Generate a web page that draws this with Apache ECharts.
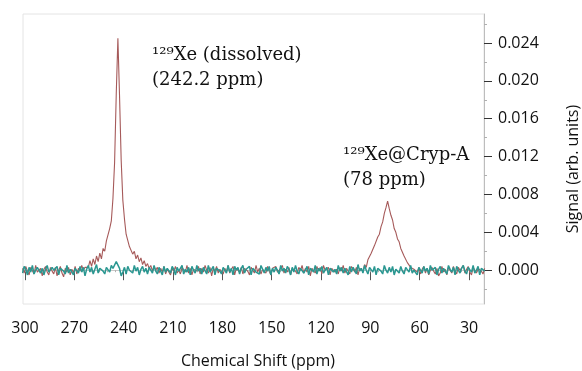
<!DOCTYPE html>
<html><head><meta charset="utf-8">
<script src="https://cdn.jsdelivr.net/npm/echarts@6/dist/echarts.min.js"></script>
<style>html,body{margin:0;padding:0;background:#fff}#c{width:582px;height:371px}</style>
</head><body><div id="c"></div>
<script>
// Chemical shift grid (ppm), 1 ppm sampling from 301.5 down to 20.5
const ppmStart = 301.5;
const ppmStep = -1;
// tick labels
const xTicks = [300, 270, 240, 210, 180, 150, 120, 90, 60, 30];
const xMinorTicks = [300,295,290,285,280,275,270,265,260,255,250,245,240,235,230,225,220,215,210,205,200,195,190,185,180,175,170,165,160,155,150,145,140,135,130,125,120,115,110,105,100,95,90,85,80,75,70,65,60,55,50,45,40,35,30,25];
const yTicks = [0, 4, 8, 12, 16, 20, 24];          // signal x 10^-3
const yMinorTicks = [-2, 2, 6, 10, 14, 18, 22, 26]; // signal x 10^-3
// Signal (x 10^-3 arb. units), sample with Cryp-A (red)
const signalCryp = [
  0.2,-0.3,0.4,-0.1,-0.5,0.3,0.1,-0.4,0.5,-0.2,
  -0.3,0.2,-0.6,0.1,0.4,-0.2,-0.5,0.3,-0.1,-0.4,
  0.3,-0.6,0.0,0.4,-0.3,-0.7,0.2,-0.2,0.3,-0.5,
  0.1,-0.3,0.4,-0.4,0.2,-0.1,0.5,0.0,0.3,0.2,
  0.3,1.0,0.4,1.2,0.6,1.5,0.9,1.8,1.2,2.3,
  2.0,3.1,2.9,4.4,5.2,7.6,11.4,18.6,24.5,18.4,
  11.6,7.4,5.4,3.8,3.6,2.5,
  2.6,1.7,2.0,1.2,1.6,0.9,1.3,0.6,1.0,0.4,
  0.7,0.2,0.5,-0.1,0.4,0.0,0.3,-0.3,0.2,-0.2,
  0.4,-0.4,0.1,0.3,-0.5,0.2,-0.1,0.4,-0.3,0.0,
  -0.4,0.3,0.1,-0.2,0.5,-0.3,0.2,-0.5,0.1,0.3,
  -0.1,0.4,-0.4,0.2,-0.2,0.5,0.0,-0.3,0.3,-0.6,
  0.2,-0.1,0.4,-0.3,0.1,0.3,-0.4,0.2,-0.2,0.5,
  -0.3,0.1,0.4,-0.5,0.2,0.0,-0.2,0.3,-0.4,0.2,
  0.4,-0.1,-0.5,0.3,0.1,-0.3,0.5,-0.2,0.2,-0.4,
  0.1,0.3,-0.3,0.4,-0.1,-0.5,0.2,0.0,0.4,-0.2,
  -0.4,0.2,0.5,-0.3,0.1,-0.2,0.3,-0.5,0.2,0.4,
  -0.1,-0.4,0.3,0.0,0.5,-0.3,0.2,-0.2,0.4,-0.6,
  0.2,0.1,-0.3,0.4,-0.1,0.3,-0.4,0.5,0.0,-0.2,
  0.3,-0.5,0.2,0.4,-0.2,0.1,-0.4,0.3,-0.1,0.5,
  -0.3,0.2,0.0,-0.4,0.4,0.1,-0.2,0.3,-0.5,0.2,
  0.3,-0.1,0.6,0.3,1.1,0.9,1.8,1.7,2.6,2.8,
  3.5,3.8,4.6,5.1,6.0,6.6,7.3,
  6.5,5.8,5.3,4.4,4.0,3.3,3.0,
  2.3,2.1,1.5,1.4,0.8,1.0,0.3,0.5,0.1,0.3,
  -0.2,0.3,-0.4,0.1,0.4,-0.3,0.2,-0.5,0.0,0.3,
  -0.1,-0.4,0.2,-0.6,-0.3,0.4,-0.2,0.1,-0.5,0.3,
  0.2,-0.3,0.4,-0.1,-0.4,0.3,0.0,-0.2,0.5,-0.3,
  0.1,0.4,-0.2,-0.5,0.3,0.0,-0.3,0.2,0.4,-0.1,-0.4,0.2
];
// Signal (x 10^-3 arb. units), control (teal)
const signalControl = [
  -0.3,0.4,0.1,-0.5,0.3,-0.2,0.5,-0.4,0.0,0.3,
  0.4,-0.3,0.2,-0.5,0.1,0.5,-0.2,-0.4,0.3,0.0,
  -0.2,0.4,-0.5,0.2,0.3,-0.1,-0.4,0.5,-0.3,0.1,
  0.3,-0.5,0.2,0.0,-0.3,0.4,-0.2,0.3,-0.6,0.1,
  0.5,-0.2,0.3,-0.4,0.1,0.6,-0.3,0.2,0.4,-0.1,
  -0.4,0.3,0.1,-0.2,0.5,0.2,0.4,0.9,1.1,0.2,
  -0.6,-0.2,0.3,-0.4,0.4,0.0,0.2,-0.3,0.5,-0.1,
  0.3,-0.5,0.1,0.4,-0.2,0.2,-0.4,0.3,0.0,-0.3,
  0.5,-0.1,-0.4,0.3,0.1,-0.5,0.4,-0.2,0.2,0.0,
  -0.3,0.4,0.1,-0.5,0.3,-0.1,0.2,0.5,-0.4,0.1,
  -0.2,0.3,-0.5,0.4,0.0,-0.3,0.5,-0.1,0.2,-0.4,
  0.3,0.1,-0.4,0.5,-0.2,0.0,0.4,-0.5,0.2,0.3,
  -0.1,-0.4,0.3,0.1,-0.3,0.5,-0.2,0.2,-0.5,0.4,
  0.0,0.3,-0.4,0.2,0.5,-0.3,0.1,-0.1,0.4,-0.5,
  0.2,0.3,-0.2,0.0,-0.4,0.5,0.1,-0.3,0.3,-0.1,
  0.4,-0.5,0.2,-0.2,0.3,0.0,-0.4,0.5,-0.1,0.2,
  -0.3,0.4,0.1,-0.5,0.3,-0.2,0.5,-0.1,-0.4,0.2,
  0.3,-0.3,0.0,0.4,-0.5,0.2,0.1,-0.2,0.5,-0.4,
  0.2,-0.1,0.4,-0.3,0.0,0.3,-0.5,0.2,0.4,-0.2,
  0.1,-0.4,0.5,-0.1,0.3,-0.3,0.2,0.0,-0.5,0.4,
  -0.2,0.3,0.1,-0.4,0.6,-0.1,0.2,-0.3,0.5,0.0,
  -0.4,0.3,0.1,-0.2,0.4,-0.5,0.2,0.3,-0.1,-0.4,
  0.5,0.0,-0.3,0.3,-0.2,0.4,-0.5,0.1,0.2,-0.3,
  0.4,-0.1,-0.4,0.3,0.1,-0.2,0.5,-0.3,0.0,0.2,
  -0.5,0.3,0.1,-0.3,0.4,-0.1,0.2,-0.4,0.5,0.0,
  -0.2,0.3,-0.5,0.1,0.4,-0.3,0.2,0.0,-0.4,0.5,
  0.1,-0.2,0.3,-0.5,0.4,0.0,-0.3,0.2,0.5,-0.1,
  -0.4,0.3,0.1,-0.2,0.5,-0.3,0.0,0.4,-0.5,0.2,0.3,-0.1
];

const toPairs = arr => arr.map((v, i) => [ppmStart + i * ppmStep, v]);

const chart = echarts.init(document.getElementById('c'), null, {renderer: 'canvas'});
const labelFont = '"Open Sans", sans-serif';
const xBase = {
  type: 'value', inverse: true, min: 20.9, max: 301.2,
  splitLine: {show: false}
};
const yBase = {
  type: 'value', position: 'right', min: -3.57, max: 27.06,
  splitLine: {show: false}
};
chart.setOption({
  animation: false,
  backgroundColor: '#fff',
  grid: {left: 23, right: 98, top: 14, bottom: 67, show: true, borderColor: '#e4e4e4', borderWidth: 1, outerBoundsMode: 'none'},
  xAxis: [
    Object.assign({}, xBase, {
      axisLine: {show: true, lineStyle: {color: '#c8c8c8', width: 1}},
      axisTick: {show: true, customValues: xTicks, length: 10, lineStyle: {color: '#555'}},
      axisLabel: {show: true, customValues: xTicks, margin: 16, fontFamily: labelFont, fontSize: 16, color: '#111'}
    }),
    Object.assign({}, xBase, {
      axisLine: {show: false},
      axisTick: {show: true, inside: true, customValues: xMinorTicks, length: 2, lineStyle: {color: '#b0b0b0'}},
      axisLabel: {show: false}
    })
  ],
  yAxis: [
    Object.assign({}, yBase, {
      axisLine: {show: true, lineStyle: {color: '#bdbdbd', width: 1}},
      axisTick: {show: true, customValues: yTicks, length: 8, lineStyle: {color: '#333'}},
      axisLabel: {show: true, customValues: yTicks, margin: 14, fontFamily: labelFont, fontSize: 16, color: '#111',
        formatter: v => (v / 1000).toFixed(3)}
    }),
    Object.assign({}, yBase, {
      axisLine: {show: false},
      axisTick: {show: true, customValues: yMinorTicks, length: 3, lineStyle: {color: '#b0b0b0'}},
      axisLabel: {show: false}
    })
  ],
  series: [
    {name: 'Cryp-A', type: 'line', data: toPairs(signalCryp), xAxisIndex: 0, yAxisIndex: 0,
     showSymbol: false, lineStyle: {color: '#a65a5a', width: 1.1}, itemStyle: {color: '#a65a5a'}},
    {name: 'control', type: 'line', data: toPairs(signalControl), xAxisIndex: 0, yAxisIndex: 0,
     showSymbol: false, lineStyle: {color: '#2a9791', width: 1.5}, itemStyle: {color: '#2a9791'}}
  ],
  graphic: [
    {type: 'text', x: 258, y: 361, style: {text: 'Chemical Shift (ppm)', font: '16px "Open Sans"', fill: '#111', align: 'center', verticalAlign: 'middle'}},
    {type: 'text', x: 573, y: 169, rotation: Math.PI / 2, style: {text: 'Signal (arb. units)', font: '16px "Open Sans"', fill: '#111', align: 'center', verticalAlign: 'middle'}},
    {type: 'text', x: 152, y: 55, style: {text: '¹²⁹Xe (dissolved)', font: '18px "DejaVu Serif"', fill: '#111', align: 'left', verticalAlign: 'middle'}},
    {type: 'text', x: 152, y: 80, style: {text: '(242.2 ppm)', font: '18px "DejaVu Serif"', fill: '#111', align: 'left', verticalAlign: 'middle'}},
    {type: 'text', x: 343, y: 155, style: {text: '¹²⁹Xe@Cryp-A', font: '18px "DejaVu Serif"', fill: '#111', align: 'left', verticalAlign: 'middle'}},
    {type: 'text', x: 343, y: 180, style: {text: '(78 ppm)', font: '18px "DejaVu Serif"', fill: '#111', align: 'left', verticalAlign: 'middle'}}
  ]
});
</script>
</body></html>
